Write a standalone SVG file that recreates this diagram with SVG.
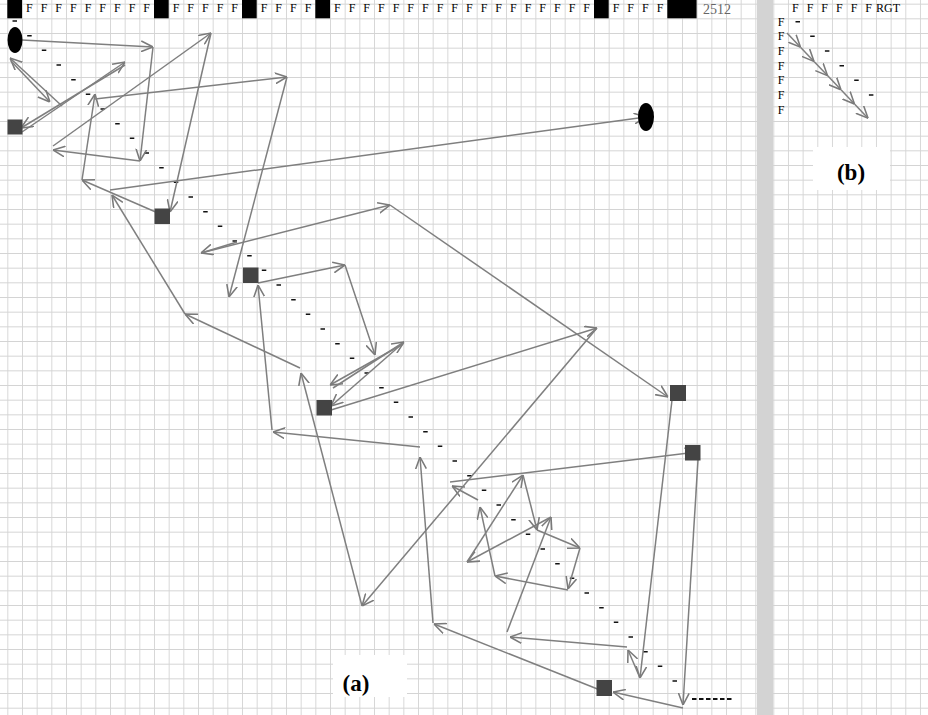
<svg xmlns="http://www.w3.org/2000/svg" width="928" height="715" viewBox="0 0 928 715">
<defs>
<pattern id="grid" x="7.333" y="3.667" width="14.667" height="14.667" patternUnits="userSpaceOnUse">
<path d="M0,0 H14.667 M0,0 V14.667" fill="none" stroke="#d4d4d4" stroke-width="1.8"/>
</pattern>
<pattern id="grid2" x="773.3" y="3.667" width="14.667" height="14.667" patternUnits="userSpaceOnUse">
<path d="M0,0 H14.667 M0,0 V14.667" fill="none" stroke="#d4d4d4" stroke-width="1.8"/>
</pattern>
<marker id="ah" viewBox="0 0 10 10" refX="10" refY="5" markerWidth="12" markerHeight="12" markerUnits="userSpaceOnUse" orient="auto">
<path d="M0,0.5 L10,5 L0,9.5" fill="none" stroke="#7a7a7a" stroke-width="1.3"/>
</marker>
<style>
.a{stroke:#7f7f7f;stroke-width:1.5;fill:none;marker-end:url(#ah)}
.sq{fill:#444}
.f{font-family:"Liberation Serif",serif;font-size:12px;fill:#000}
.lab{font-family:"Liberation Serif",serif;font-size:23px;font-weight:bold;fill:#000}
.d{stroke:#111;stroke-width:1.6;fill:none}
</style>
</defs>
<rect x="0" y="0" width="928" height="715" fill="#fff"/>
<rect x="0" y="0" width="757" height="715" fill="url(#grid)"/>
<rect x="773" y="0" width="155" height="715" fill="url(#grid2)"/>
<rect x="757" y="0" width="16" height="715" fill="#d3d3d3"/>

<g id="topstrip">
<rect x="7.3" y="0" width="14.7" height="18.3" fill="#000"/>
<rect x="154" y="0" width="14.7" height="18.3" fill="#000"/>
<rect x="242" y="0" width="14.7" height="18.3" fill="#000"/>
<rect x="315.3" y="0" width="14.7" height="18.3" fill="#000"/>
<rect x="594" y="0" width="14.7" height="18.3" fill="#000"/>
<rect x="667.3" y="0" width="29.3" height="18.3" fill="#000"/>
<text class="f" text-anchor="middle" y="11.5" x="29.3 44 58.7 73.3 88 102.7 117.3 132 146.7">FFFFFFFFF</text>
<text class="f" text-anchor="middle" y="11.5" x="176 190.7 205.3 220 234.7">FFFFF</text>
<text class="f" text-anchor="middle" y="11.5" x="264 278.7 293.3 308">FFFF</text>
<text class="f" text-anchor="middle" y="11.5" x="337.3 352 366.7 381.3 396 410.7 425.3 440 454.7 469.3 484 498.7 513.3 528 542.7 557.3 572 586.7">FFFFFFFFFFFFFFFFFF</text>
<text class="f" text-anchor="middle" y="11.5" x="616 630.7 645.3 660">FFFF</text>
<text x="703" y="13.5" font-family="Liberation Serif, serif" font-size="14" fill="#666">2512</text>
</g>

<g id="diag-a">
<path class="d" d="M12.5,21h4.5 M27.2,35.7h4.5 M41.8,50.3h4.5 M56.5,65h4.5 M71.2,79.7h4.5 M85.8,94.3h4.5 M100.5,109h4.5 M115.2,123.7h4.5 M129.8,138.3h4.5 M144.5,153h4.5 M159.2,167.7h4.5 M173.8,182.3h4.5 M188.5,197h4.5 M203.2,211.7h4.5 M217.8,226.3h4.5 M232.5,241h4.5 M247.2,255.7h4.5 M261.8,270.3h4.5 M276.5,285h4.5 M291.2,299.7h4.5 M305.8,314.3h4.5 M320.5,329h4.5 M335.2,343.7h4.5 M349.8,358.3h4.5 M364.5,373h4.5 M379.2,387.7h4.5 M393.8,402.3h4.5 M408.5,417h4.5 M423.2,431.7h4.5 M437.8,446.3h4.5 M452.5,461h4.5 M467.2,475.7h4.5 M481.8,490.3h4.5 M496.5,505h4.5 M511.2,519.7h4.5 M525.8,534.3h4.5 M540.5,549h4.5 M555.2,563.7h4.5 M569.8,578.3h4.5 M584.5,593h4.5 M599.2,607.7h4.5 M613.8,622.3h4.5 M628.5,637h4.5 M643.2,651.7h4.5 M657.8,666.3h4.5 M672.5,681h4.5"/>
<path d="M692,699 H734" stroke="#111" stroke-width="1.8" stroke-dasharray="4.5 2.5"/>
</g>

<g id="connectors">
<line class="a" x1="22" y1="40" x2="153" y2="47"/>
<line class="a" x1="153" y1="47" x2="140" y2="161"/>
<line class="a" x1="140" y1="161" x2="53" y2="150"/>
<line class="a" x1="53" y1="146" x2="211" y2="33"/>
<line class="a" x1="211" y1="33" x2="170" y2="212"/>
<line class="a" x1="158" y1="213" x2="82" y2="180"/>
<line class="a" x1="82" y1="180" x2="95" y2="94"/>
<line class="a" x1="95" y1="99" x2="287" y2="77"/>
<line class="a" x1="287" y1="77" x2="229" y2="297"/>
<line class="a" x1="237" y1="242" x2="201" y2="253"/>
<line class="a" x1="201" y1="253" x2="390" y2="205"/>
<line class="a" x1="62" y1="106" x2="10" y2="58"/>
<line class="a" x1="11" y1="61" x2="50" y2="102"/>
<line class="a" x1="22" y1="132" x2="125" y2="62"/>
<line class="a" x1="125" y1="65" x2="21" y2="128"/>
<line class="a" x1="390" y1="205" x2="668" y2="397"/>
<line class="a" x1="672" y1="400" x2="640" y2="678"/>
<line class="a" x1="640" y1="678" x2="628" y2="650"/>
<line class="a" x1="627" y1="647" x2="510" y2="637"/>
<line class="a" x1="507" y1="632" x2="551" y2="517"/>
<line class="a" x1="551" y1="517" x2="467" y2="562"/>
<line class="a" x1="467" y1="562" x2="523" y2="475"/>
<line class="a" x1="523" y1="475" x2="537" y2="530"/>
<line class="a" x1="537" y1="530" x2="580" y2="548"/>
<line class="a" x1="580" y1="548" x2="568" y2="589"/>
<line class="a" x1="568" y1="590" x2="495" y2="576"/>
<line class="a" x1="495" y1="576" x2="480" y2="507"/>
<line class="a" x1="478" y1="500" x2="452" y2="486"/>
<line class="a" x1="450" y1="482" x2="697" y2="452"/>
<line class="a" x1="698" y1="460" x2="683" y2="705"/>
<line class="a" x1="683" y1="708" x2="613" y2="692"/>
<line class="a" x1="600" y1="690" x2="434" y2="624"/>
<line class="a" x1="433" y1="623" x2="420" y2="457"/>
<line class="a" x1="420" y1="447" x2="273" y2="432"/>
<line class="a" x1="272" y1="430" x2="258" y2="285"/>
<line class="a" x1="258" y1="283" x2="345" y2="265"/>
<line class="a" x1="345" y1="265" x2="375" y2="355"/>
<line class="a" x1="403" y1="344" x2="330" y2="385"/>
<line class="a" x1="333" y1="388" x2="404" y2="342"/>
<line class="a" x1="403" y1="343" x2="331" y2="406"/>
<line class="a" x1="331" y1="410" x2="597" y2="328"/>
<line class="a" x1="597" y1="328" x2="362" y2="606"/>
<line class="a" x1="362" y1="606" x2="301" y2="373"/>
<line class="a" x1="300" y1="368" x2="185" y2="314"/>
<line class="a" x1="185" y1="314" x2="112" y2="195"/>
<line class="a" x1="110" y1="190" x2="646" y2="117"/>
</g>

<g id="n-start"><ellipse cx="15" cy="40" rx="7.5" ry="13" fill="#000"/></g>
<g id="n-end"><ellipse cx="646" cy="117" rx="8" ry="14" fill="#000"/></g>
<g id="n1"><rect class="sq" x="7.5" y="119.5" width="15" height="15"/></g>
<g id="n2"><rect class="sq" x="154.5" y="208.5" width="15.5" height="15.5"/></g>
<g id="n3"><rect class="sq" x="243" y="267.5" width="15.5" height="15.5"/></g>
<g id="n4"><rect class="sq" x="316.5" y="400" width="15.5" height="15.5"/></g>
<g id="n5"><rect class="sq" x="670" y="385" width="16" height="16"/></g>
<g id="n6"><rect class="sq" x="685" y="445" width="15.5" height="15.5"/></g>
<g id="n7"><rect class="sq" x="596.5" y="680" width="15.5" height="16"/></g>

<g id="label-a">
<rect x="333" y="655" width="74" height="42" fill="#fff"/>
<text class="lab" x="356" y="691" text-anchor="middle">(a)</text>
</g>

<g id="panel-b">
<text class="f" text-anchor="middle" y="11.5" x="795.3 810 824.7 839.3 854 868.7">FFFFFF</text>
<text class="f" x="876" y="11.5">RGT</text>
<text class="f" text-anchor="middle" x="781" y="25.5">F</text>
<text class="f" text-anchor="middle" x="781" y="40.2">F</text>
<text class="f" text-anchor="middle" x="781" y="54.8">F</text>
<text class="f" text-anchor="middle" x="781" y="69.5">F</text>
<text class="f" text-anchor="middle" x="781" y="84.2">F</text>
<text class="f" text-anchor="middle" x="781" y="98.8">F</text>
<text class="f" text-anchor="middle" x="781" y="113.5">F</text>
<path class="d" d="M795.5,21.7h4.5 M810.2,36.3h4.5 M824.9,51h4.5 M839.5,65.7h4.5 M854.2,80.3h4.5 M868.9,95h4.5"/>
<line class="a" x1="787" y1="33" x2="800.5" y2="47.2"/>
<line class="a" x1="800.5" y1="47.2" x2="814" y2="61.4"/>
<line class="a" x1="814" y1="61.4" x2="827.5" y2="75.6"/>
<line class="a" x1="827.5" y1="75.6" x2="841" y2="89.8"/>
<line class="a" x1="841" y1="89.8" x2="854.5" y2="104"/>
<line class="a" x1="854.5" y1="104" x2="868" y2="118.2"/>
<rect x="813" y="147" width="77" height="43" fill="#fff"/>
<text class="lab" x="851" y="180" text-anchor="middle">(b)</text>
</g>
</svg>
